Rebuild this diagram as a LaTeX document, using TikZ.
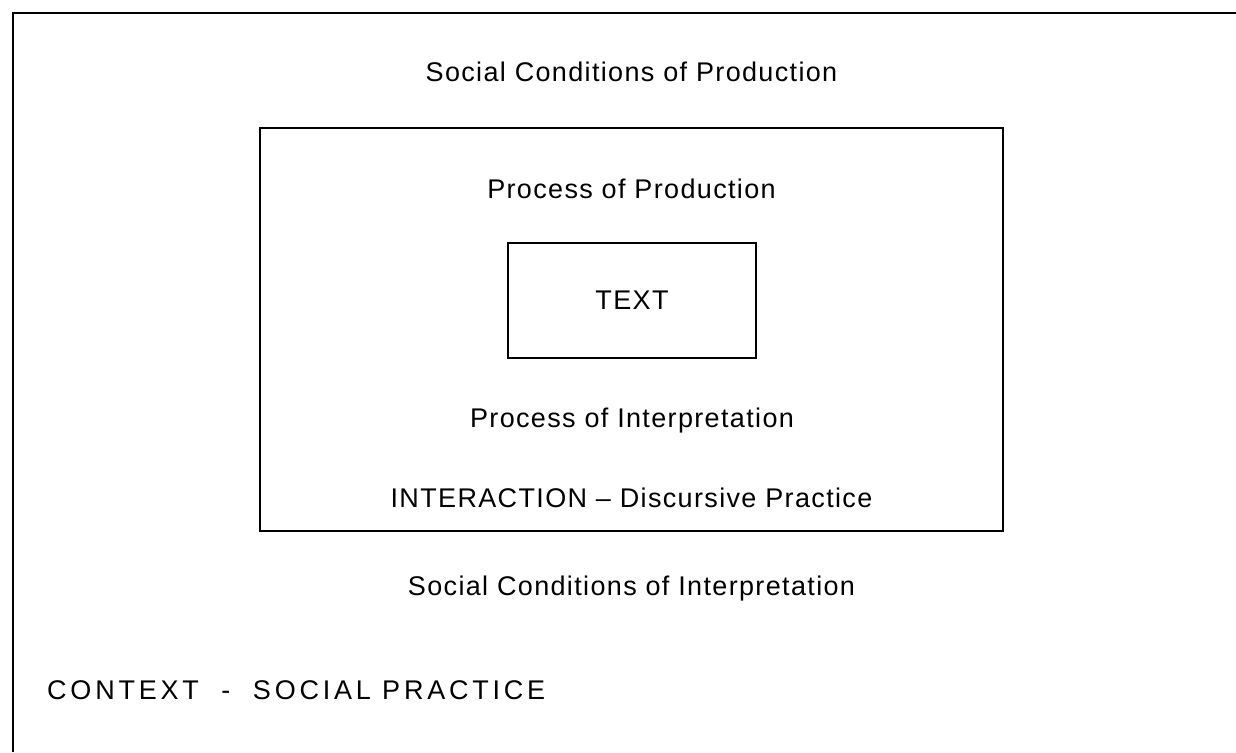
\documentclass[tikz,border=0pt]{standalone}
\usepackage{fontspec}
\setmainfont[LetterSpace=5]{Liberation Sans}
\newfontfamily\widefont[LetterSpace=14]{Liberation Sans}
\usepackage{tikz}
\usetikzlibrary{positioning}

\begin{document}
\begin{tikzpicture}[
    x=1pt, y=-1pt,
    node distance=20pt,
    frame/.style={draw=black, line width=1.8pt},
    box/.style={rectangle, draw=black, line width=1.6pt, inner sep=0pt, font=\fontsize{27}{32}\selectfont},
    caption/.style={inner sep=0pt, text height=19.5pt, text depth=5.5pt, font=\fontsize{27}{32}\selectfont}
]
\useasboundingbox (0,0) rectangle (1236,752);

% Open frame round the social practice
\draw[frame] (13,752) |- (1236,13);

% Discursive practice box and the text in the middle
\node[box, minimum width=743pt, minimum height=403pt] (practice) at (631.5,329.5) {};
\node[box, minimum width=248pt, minimum height=115pt] (text) at (632,300.5) {TEXT};

% Labels inside the inner box
\node[caption, below=52pt of practice.north] (prodproc) {Process of Production};
\node[caption, below=49pt of text.south] (interproc) {Process of Interpretation};
\node[caption, above=18.5pt of practice.south] (interaction) {INTERACTION -- Discursive Practice};

% Labels outside it
\node[caption, above=40pt of practice.north] (prodcond) {Social Conditions of Production};
\node[caption, below=44pt of practice.south] (intercond) {Social Conditions of Interpretation};
\node[caption, anchor=north west, font=\fontsize{27}{32}\widefont] (context) at (47,680) {CONTEXT\ \ -\ \ SOCIAL PRACTICE};

\end{tikzpicture}
\end{document}
